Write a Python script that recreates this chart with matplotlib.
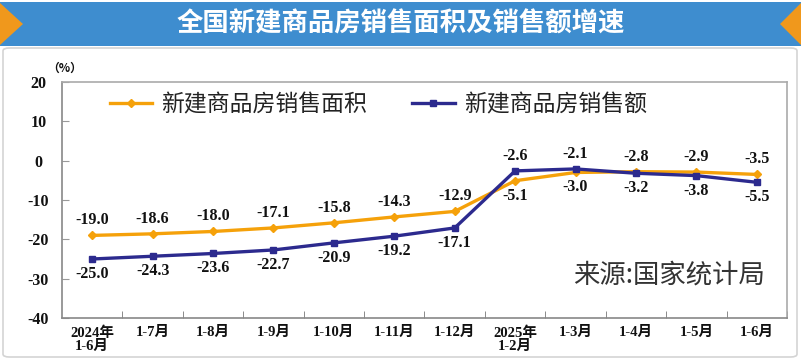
import matplotlib
matplotlib.use("Agg")
import matplotlib.pyplot as plt
from matplotlib.patches import Rectangle, Polygon, FancyBboxPatch
from matplotlib.lines import Line2D

plt.rcParams['font.family'] = ['Noto Sans CJK SC', 'DejaVu Sans']

categories = ["2024年\n1-6月", "1-7月", "1-8月", "1-9月", "1-10月", "1-11月", "1-12月",
              "2025年\n1-2月", "1-3月", "1-4月", "1-5月", "1-6月"]
area = [-19.0, -18.6, -18.0, -17.1, -15.8, -14.3, -12.9, -5.1, -3.0, -2.8, -2.9, -3.5]
amount = [-25.0, -24.3, -23.6, -22.7, -20.9, -19.2, -17.1, -2.6, -2.1, -3.2, -3.8, -5.5]
yticks = [20, 10, 0, -10, -20, -30, -40]
title = "全国新建商品房销售面积及销售额增速"
series_names = ["新建商品房销售面积", "新建商品房销售额"]
source = "来源:国家统计局"

W, H = 801, 360
fig = plt.figure(figsize=(W / 100, H / 100), dpi=100)
fig.patch.set_facecolor("white")

def fx(px):
    return px / W

def fy(py):
    return 1 - py / H

# panel border
fig.patches.append(FancyBboxPatch((fx(3), fy(357)), fx(794), 309 / H,
                                  boxstyle="round,pad=0,rounding_size=0.008",
                                  transform=fig.transFigure, facecolor="white",
                                  edgecolor="#d4d4d4", linewidth=1.2, zorder=-2))
# banner
blue = "#3e8dcf"
orange_b = "#f0981c"
fig.patches.append(Rectangle((0, fy(46)), 1, 44 / H, transform=fig.transFigure,
                             facecolor=blue, edgecolor="none", zorder=-1))
fig.patches.append(Polygon([(fx(0), fy(3)), (fx(23), fy(24)), (fx(0), fy(45))],
                           closed=True, transform=fig.transFigure,
                           facecolor=orange_b, edgecolor="none", zorder=-1))
fig.patches.append(Polygon([(fx(801), fy(3)), (fx(780), fy(24)), (fx(801), fy(45))],
                           closed=True, transform=fig.transFigure,
                           facecolor=orange_b, edgecolor="none", zorder=-1))
fig.text(0.5, fy(24), title, color="white", fontsize=19, fontweight="bold",
         ha="center", va="center", zorder=3)

ax = fig.add_axes([fx(62), fy(318), fx(787 - 62), (318 - 82) / H])
ax.set_zorder(5)
ax.set_facecolor("white")
x = list(range(len(categories)))

c_orange = "#f5a10a"
c_navy = "#2c2a8e"
ax.plot(x, area, color=c_orange, linewidth=2.4, marker="D", markersize=4.5,
        markerfacecolor=c_orange, markeredgecolor=c_orange, zorder=3)
ax.plot(x, amount, color=c_navy, linewidth=2.4, marker="s", markersize=5,
        markerfacecolor=c_navy, markeredgecolor=c_navy, zorder=4)

lab_font = dict(family=["Liberation Serif", "Noto Sans CJK SC"], fontweight="bold",
                fontsize=11.5, color="#111111")
for i in x:
    a, b = area[i], amount[i]
    for v, other in ((a, b), (b, a)):
        up = v >= other
        ax.annotate(f"{v:.1f}", (i, v), xytext=(0, 15 if up else -15),
                    textcoords="offset pixels", ha="center", va="center", **lab_font)

tick_font = dict(lab_font, fontsize=10.5)
ax.set_xlim(-0.5, len(categories) - 0.5)
ax.set_ylim(-40, 20)
ax.set_yticks(yticks)
ax.set_yticklabels([str(v) for v in yticks], **dict(tick_font, fontsize=11.5))
ax.set_xticks(x)
ax.set_xticklabels(categories, linespacing=1.0, **tick_font)
ax.set_xticks([i + 0.5 for i in x], minor=True)
ax.tick_params(axis="x", which="major", length=0, pad=6)
ax.tick_params(axis="x", which="minor", direction="in", length=5, color="#777777")
ax.tick_params(axis="y", direction="in", length=5, color="#999999", pad=17)
for lab in ax.get_yticklabels():
    lab.set_horizontalalignment("center")
for s in ["left", "bottom"]:
    ax.spines[s].set_color("#888888")
    ax.spines[s].set_linewidth(1.2)
for s in ["top", "right"]:
    ax.spines[s].set_color("#aaaaaa")
    ax.spines[s].set_linewidth(1.2)

fig.text(fx(65), fy(68), "（%）", fontsize=8.5, fontweight="bold", ha="center",
         va="center", color="#111111")

handles = [Line2D([], [], color=c_orange, linewidth=2.4, marker="D", markersize=4.5),
           Line2D([], [], color=c_navy, linewidth=2.4, marker="s", markersize=5)]
ax.legend(handles, series_names, ncol=2, loc="upper left",
          bbox_to_anchor=(fx(110 - 62) / fx(725), 1 - 11 / 236), frameon=False,
          fontsize=16.5, handlelength=1.85, handletextpad=0.4, columnspacing=1.95,
          borderaxespad=0, borderpad=0)
for t in ax.get_legend().get_texts():
    t.set_color("#222222")

ax.text(fx(765 - 62) / fx(725), (318 - 275) / 236, source, transform=ax.transAxes,
        fontsize=19, color="#333333", ha="right", va="center")

fig.savefig("out.png", dpi=100)
